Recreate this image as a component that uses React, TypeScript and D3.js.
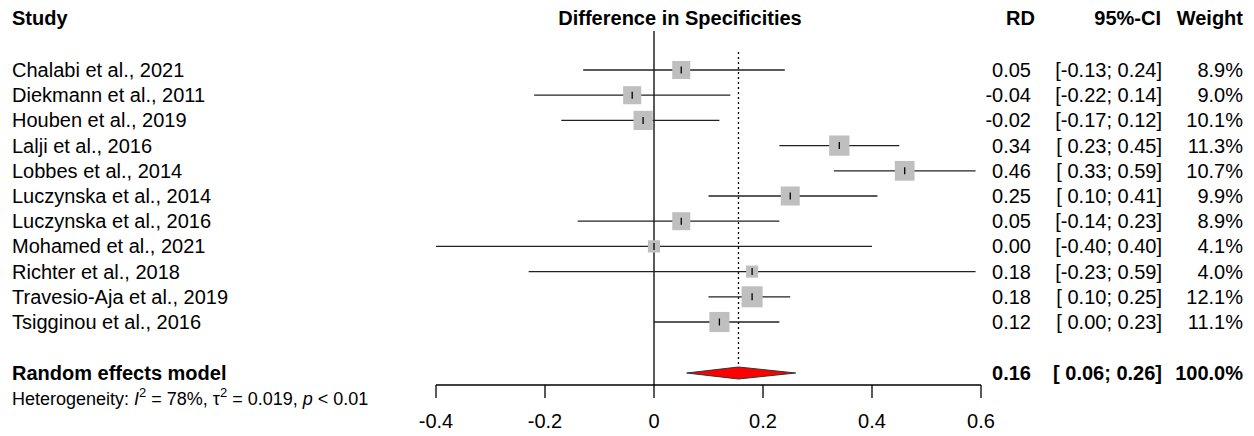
import React from 'react';
import * as d3 from 'd3';

const width = 1254;
const height = 436;
const font = '"Liberation Sans", Arial, sans-serif';

const studies = [
  'Chalabi et al., 2021', 'Diekmann et al., 2011', 'Houben et al., 2019', 'Lalji et al., 2016',
  'Lobbes et al., 2014', 'Luczynska et al., 2014', 'Luczynska et al., 2016', 'Mohamed et al., 2021',
  'Richter et al., 2018', 'Travesio-Aja et al., 2019', 'Tsigginou et al., 2016',
];
const rd = [0.05, -0.04, -0.02, 0.34, 0.46, 0.25, 0.05, 0.0, 0.18, 0.18, 0.12];
const lower = [-0.13, -0.22, -0.17, 0.23, 0.33, 0.10, -0.14, -0.40, -0.23, 0.10, 0.00];
const upper = [0.24, 0.14, 0.12, 0.45, 0.59, 0.41, 0.23, 0.40, 0.59, 0.25, 0.23];
const weights = [8.9, 9.0, 10.1, 11.3, 10.7, 9.9, 8.9, 4.1, 4.0, 12.1, 11.1];

// pooled (random effects)
const pooled = { est: 0.155, lo: 0.06, hi: 0.26, label: '0.16', ci: '[ 0.06; 0.26]', weight: '100.0%' };
const tickValues = [-0.4, -0.2, 0, 0.2, 0.4, 0.6];

const fmt = (v: number) => v.toFixed(2);
const fmtCI = (v: number) => (v < 0 ? fmt(v) : ' ' + fmt(v));

const x = d3.scaleLinear().domain([-0.4, 0.6]).range([436, 981]);
const y = d3.scaleLinear().domain([0, studies.length - 1]).range([70, 322]);
const boxSize = d3.scaleSqrt().domain([0, d3.max(weights) as number]).range([0, 21]);

const rowY = 373;
const axisY = 385;
const rdX = 1031;
const ciX = 1162;
const wX = 1243;

export default function App() {
  return (
    <svg width={width} height={height} style={{ position: 'absolute', left: 0, top: 0, background: '#fff' }}
      fontFamily={font} fontSize={20}>
      {/* headers */}
      <g fontWeight="bold">
        <text x={12} y={25}>Study</text>
        <text x={680} y={25} textAnchor="middle">Difference in Specificities</text>
        <text x={1035} y={25} textAnchor="end">RD</text>
        <text x={1161} y={25} textAnchor="end">95%-CI</text>
        <text x={wX} y={25} textAnchor="end">Weight</text>
      </g>

      {/* reference lines */}
      <line x1={x(0)} x2={x(0)} y1={31} y2={axisY} stroke="#000" strokeWidth={1.3} />
      <line x1={x(pooled.est)} x2={x(pooled.est)} y1={52} y2={rowY - 6} stroke="#000"
        strokeWidth={1.3} strokeDasharray="2,3" />

      {/* studies */}
      {studies.map((s, i) => {
        const cy = y(i);
        const b = boxSize(weights[i]);
        return (
          <g key={s}>
            <text x={12} y={cy + 7}>{s}</text>
            <line x1={x(lower[i])} x2={x(upper[i])} y1={cy} y2={cy} stroke="#222" strokeWidth={1.3} />
            <rect x={x(rd[i]) - b / 2} y={cy - b / 2} width={b} height={b} fill="#bfbfbf" />
            <line x1={x(rd[i])} x2={x(rd[i])} y1={cy - 3.5} y2={cy + 3.5} stroke="#000" strokeWidth={1.3} />
            <text x={rdX} y={cy + 7} textAnchor="end">{fmt(rd[i])}</text>
            <text x={ciX} y={cy + 7} textAnchor="end" style={{ whiteSpace: 'pre' }}>
              {`[${fmtCI(lower[i])}; ${fmt(upper[i])}]`}
            </text>
            <text x={wX} y={cy + 7} textAnchor="end">{weights[i].toFixed(1)}%</text>
          </g>
        );
      })}

      {/* pooled */}
      <text x={12} y={rowY + 7} fontWeight="bold">Random effects model</text>
      <polygon
        points={[[x(pooled.lo), rowY], [x(pooled.est), rowY - 6], [x(pooled.hi), rowY], [x(pooled.est), rowY + 6]]
          .map(p => p.join(',')).join(' ')}
        fill="#ff0000" stroke="#333" strokeWidth={1} />
      <g fontWeight="bold">
        <text x={rdX} y={rowY + 7} textAnchor="end">{pooled.label}</text>
        <text x={ciX} y={rowY + 7} textAnchor="end" style={{ whiteSpace: 'pre' }}>{pooled.ci}</text>
        <text x={wX} y={rowY + 7} textAnchor="end">{pooled.weight}</text>
      </g>
      <text x={12} y={405} fontSize={18}>
        Heterogeneity: <tspan fontStyle="italic">I</tspan>
        <tspan dy={-8} fontSize={13}>2</tspan>
        <tspan dy={8}> = 78%, τ</tspan>
        <tspan dy={-8} fontSize={13}>2</tspan>
        <tspan dy={8}> = 0.019, </tspan>
        <tspan fontStyle="italic">p</tspan> &lt; 0.01
      </text>

      {/* axis */}
      <line x1={x(-0.4)} x2={x(0.6)} y1={axisY} y2={axisY} stroke="#000" strokeWidth={1.3} />
      {tickValues.map(t => (
        <g key={t}>
          <line x1={x(t)} x2={x(t)} y1={axisY} y2={axisY + 13} stroke="#000" strokeWidth={1.3} />
          <text x={x(t)} y={428} textAnchor="middle">{String(t)}</text>
        </g>
      ))}
    </svg>
  );
}
